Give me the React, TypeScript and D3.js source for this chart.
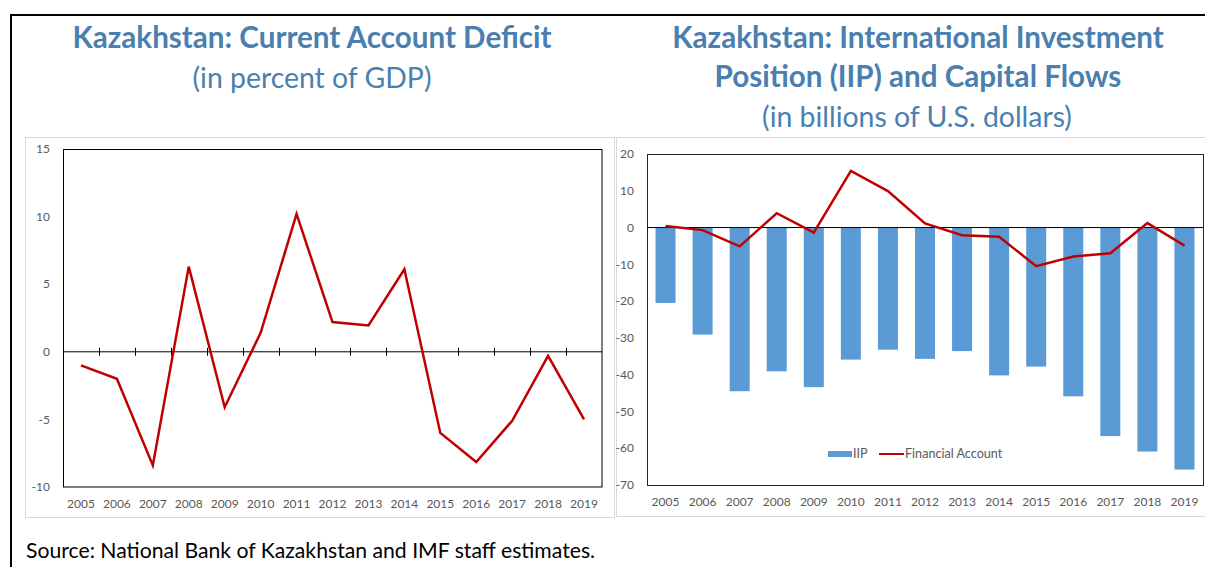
import React, { useEffect, useRef } from 'react';
import * as d3 from 'd3';

const years = ['2005', '2006', '2007', '2008', '2009', '2010', '2011', '2012', '2013', '2014', '2015', '2016', '2017', '2018', '2019'];

// current account balance, percent of GDP
const caBalance = [-1.0, -2.0, -8.4, 6.3, -4.1, 1.4, 10.2, 2.2, 1.95, 6.1, -6.0, -8.15, -5.1, -0.3, -5.0];

// IIP and financial account, billions of USD
const iip = [-20.5, -29.1, -44.5, -39.1, -43.4, -35.9, -33.2, -35.7, -33.6, -40.2, -37.8, -45.9, -56.7, -60.9, -65.8];
const financialAccount = [0.4, -0.7, -5.1, 3.9, -1.4, 15.4, 9.9, 1.1, -2.1, -2.5, -10.5, -7.9, -7.0, 1.2, -4.9];

const leftTicks = [-10, -5, 0, 5, 10, 15];
const rightTicks = [20, 10, 0, -10, -20, -30, -40, -50, -60, -70];

const titleColor = '#4a7fb0';
const red = '#c00000';
const blue = '#5b9bd5';
const font = 'Lato, "Open Sans", sans-serif';

const App: React.FC = () => {
  const ref = useRef<SVGSVGElement | null>(null);

  useEffect(() => {
    if (!ref.current) return;
    const svg = d3.select(ref.current);
    svg.selectAll('*').remove();

    // outer frame
    svg.append('line').attr('x1', 10).attr('x2', 1205).attr('y1', 15).attr('y2', 15)
      .attr('stroke', '#000').attr('stroke-width', 2);
    svg.append('line').attr('x1', 11).attr('x2', 11).attr('y1', 14).attr('y2', 567)
      .attr('stroke', '#000').attr('stroke-width', 2);

    // titles
    const title = (x: number, y: number, text: string, bold: boolean) =>
      svg.append('text').attr('x', x).attr('y', y).attr('text-anchor', 'middle')
        .attr('font-family', font).attr('font-size', bold ? 29.6 : 28.4)
        .attr('font-weight', bold ? 700 : 400).attr('fill', titleColor).text(text);

    title(312, 48, 'Kazakhstan: Current Account Deficit', true);
    title(312, 88, '(in percent of GDP)', false);
    title(918, 48, 'Kazakhstan: International Investment', true);
    title(918, 87, 'Position (IIP) and Capital Flows', true);
    title(917, 127, '(in billions of U.S. dollars)', false);

    // panels
    svg.append('rect').attr('x', 25.5).attr('y', 137.5).attr('width', 589).attr('height', 380)
      .attr('fill', 'none').attr('stroke', '#d9d9d9');
    svg.append('rect').attr('x', 616.5).attr('y', 137.5).attr('width', 600).attr('height', 379)
      .attr('fill', 'none').attr('stroke', '#d9d9d9');

    const labelStyle = (sel: d3.Selection<SVGTextElement, any, any, any>) =>
      sel.attr('font-family', font).attr('font-size', 12).attr('fill', '#595959');

    // ---- left chart ----
    const x1 = d3.scaleBand().domain(years).range([63, 602]);
    const y1 = d3.scaleLinear().domain([-10, 15]).range([487, 149]);
    const g1 = svg.append('g');

    g1.append('rect').attr('x', 63.5).attr('y', 149.5).attr('width', 538.5).attr('height', 337.5)
      .attr('fill', 'none').attr('stroke', '#000');

    g1.append('line').attr('x1', 63).attr('x2', 602).attr('y1', y1(0)).attr('y2', y1(0))
      .attr('stroke', '#000');
    g1.selectAll('.tick')
      .data(years.slice(1))
      .enter().append('line')
      .attr('x1', d => Math.round(x1(d)!) + 0.5)
      .attr('x2', d => Math.round(x1(d)!) + 0.5)
      .attr('y1', y1(0) - 4).attr('y2', y1(0) + 4)
      .attr('stroke', '#000');

    g1.selectAll('.ylab')
      .data(leftTicks)
      .enter().append('text')
      .attr('x', 50).attr('y', d => y1(d)).attr('dy', '0.35em').attr('text-anchor', 'end')
      .text(d => String(d))
      .call(labelStyle);

    g1.selectAll('.xlab')
      .data(years)
      .enter().append('text')
      .attr('x', d => x1(d)! + x1.bandwidth() / 2).attr('y', 508).attr('text-anchor', 'middle')
      .text(d => d)
      .call(labelStyle);

    const line1 = d3.line<number>()
      .x((_, i) => x1(years[i])! + x1.bandwidth() / 2)
      .y(d => y1(d));
    g1.append('path').datum(caBalance).attr('d', line1)
      .attr('fill', 'none').attr('stroke', red).attr('stroke-width', 2.5).attr('stroke-linejoin', 'miter');

    // ---- right chart ----
    const x2 = d3.scaleBand().domain(years).range([647, 1203]).paddingInner(0.46).paddingOuter(0.23);
    const y2 = d3.scaleLinear().domain([-70, 20]).range([485, 154]);
    const g2 = svg.append('g');

    g2.selectAll('.bar')
      .data(iip)
      .enter().append('rect')
      .attr('x', (_, i) => x2(years[i])!)
      .attr('y', y2(0))
      .attr('width', x2.bandwidth())
      .attr('height', d => y2(d) - y2(0))
      .attr('fill', blue);

    g2.append('rect').attr('x', 647.5).attr('y', 154.5).attr('width', 556).attr('height', 331)
      .attr('fill', 'none').attr('stroke', '#262626');
    g2.append('line').attr('x1', 647).attr('x2', 1203).attr('y1', y2(0)).attr('y2', y2(0))
      .attr('stroke', '#000');

    const line2 = d3.line<number>()
      .x((_, i) => x2(years[i])! + x2.bandwidth() / 2)
      .y(d => y2(d));
    g2.append('path').datum(financialAccount).attr('d', line2)
      .attr('fill', 'none').attr('stroke', red).attr('stroke-width', 2.5);

    g2.selectAll('.ylab')
      .data(rightTicks)
      .enter().append('text')
      .attr('x', 634).attr('y', d => y2(d)).attr('dy', '0.35em').attr('text-anchor', 'end')
      .text(d => String(d))
      .call(labelStyle);

    g2.selectAll('.xlab')
      .data(years)
      .enter().append('text')
      .attr('x', d => x2(d)! + x2.bandwidth() / 2).attr('y', 506).attr('text-anchor', 'middle')
      .text(d => d)
      .call(labelStyle);

    // legend
    const lg = g2.append('g').attr('transform', 'translate(828,454)');
    lg.append('rect').attr('x', 0).attr('y', -3).attr('width', 24).attr('height', 6).attr('fill', blue);
    lg.append('text').attr('x', 25).attr('y', 0).attr('dy', '0.35em').text('IIP').call(labelStyle).attr('font-size', 12.6);
    lg.append('line').attr('x1', 51).attr('x2', 76).attr('y1', 0).attr('y2', 0)
      .attr('stroke', red).attr('stroke-width', 2);
    lg.append('text').attr('x', 77).attr('y', 0).attr('dy', '0.35em').text('Financial Account').call(labelStyle).attr('font-size', 12.6);

    // source
    svg.append('text').attr('x', 26).attr('y', 558)
      .attr('font-family', font).attr('font-size', 21.2).attr('fill', '#000')
      .text('Source: National Bank of Kazakhstan and IMF staff estimates.');
  }, []);

  return (
    <svg ref={ref} width={1205} height={567}
      style={{ position: 'absolute', left: 0, top: 0, background: '#fff' }} />
  );
};

export default App;
